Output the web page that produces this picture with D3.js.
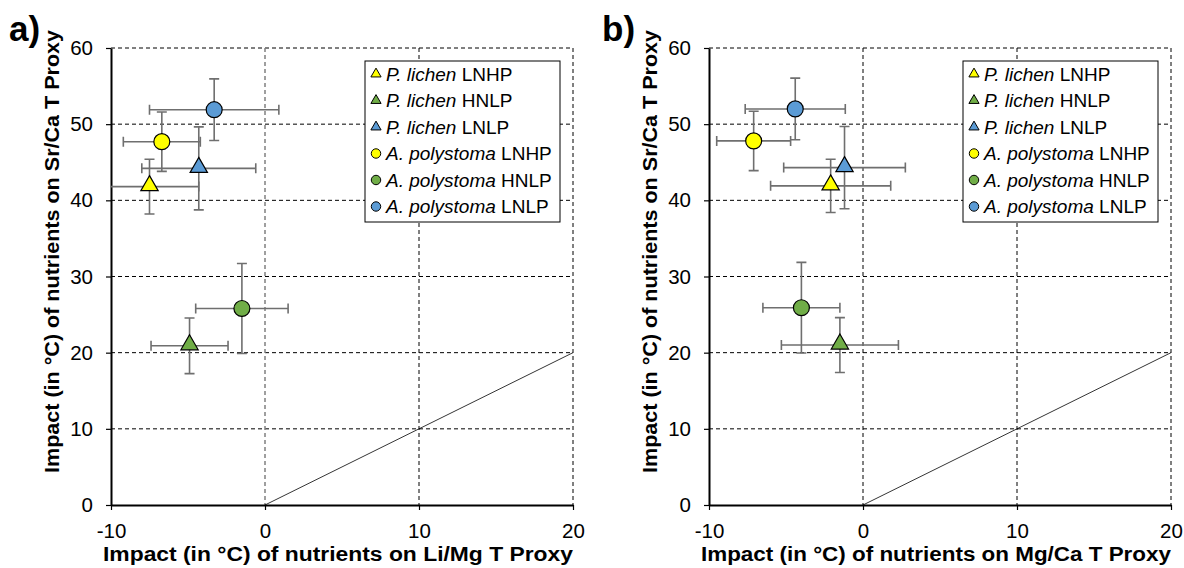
<!DOCTYPE html>
<html>
<head>
<meta charset="utf-8">
<script src="https://cdn.jsdelivr.net/npm/d3@7"></script>
<style>
  body { margin: 0; background: #fff; }
  text { font-family: Arial, "Liberation Sans", sans-serif; }
</style>
</head>
<body>
<div id="graphique"></div>
<script>
// --- DONNÉES ---
const especes     = ["P. lichen", "P. lichen", "P. lichen", "A. polystoma", "A. polystoma", "A. polystoma"];
const traitements = ["LNHP", "HNLP", "LNLP", "LNHP", "HNLP", "LNLP"];
const formes      = ["triangle", "triangle", "triangle", "cercle", "cercle", "cercle"];
const couleurs    = ["#FFFF00", "#70AD47", "#5B9BD5", "#FFFF00", "#70AD47", "#5B9BD5"];

// panneau a) : Li/Mg vs Sr/Ca
const xA    = [-7.5, -4.9, -4.3, -6.7, -1.5, -3.3];
const xErrA = [3.2, 2.5, 3.7, 2.5, 3.0, 4.2];
const yA    = [41.8, 20.9, 44.2, 47.7, 25.8, 51.9];
const yErrA = [3.6, 3.65, 5.45, 3.9, 5.9, 4.05];

// panneau b) : Mg/Ca vs Sr/Ca
const xB    = [-2.1, -1.5, -1.2, -7.1, -4.0, -4.4];
const xErrB = [3.9, 3.8, 3.95, 2.4, 2.5, 3.25];
const yB    = [41.9, 21.0, 44.3, 47.8, 25.9, 52.0];
const yErrB = [3.5, 3.6, 5.4, 3.9, 5.95, 4.05];

const ticksX = [-10, 0, 10, 20];
const ticksY = [0, 10, 20, 30, 40, 50, 60];

// --- CONFIGURATION ---
const largeur = 1184;
const hauteur = 568;

const svg = d3.select("#graphique")
    .append("svg")
    .attr("width", largeur)
    .attr("height", hauteur);

const panneaux = [
    { lettre: "a)", gauche: 111, xs: xA, xe: xErrA, ys: yA, ye: yErrA, titreX: "Impact (in °C) of nutrients on Li/Mg T Proxy", zeroGris: true, legendeX: 365, lettreX: 9 },
    { lettre: "b)", gauche: 709, xs: xB, xe: xErrB, ys: yB, ye: yErrB, titreX: "Impact (in °C) of nutrients on Mg/Ca T Proxy", zeroGris: false, legendeX: 963, lettreX: 602 }
];

const haut = 48, bas = 505, largeurPlot = 462;

panneaux.forEach((p, k) => {
    const x = d3.scaleLinear().domain([-10, 20]).range([p.gauche, p.gauche + largeurPlot]);
    const y = d3.scaleLinear().domain([0, 60]).range([bas, haut]);
    const g = svg.append("g");

    // clip pour les barres d'erreur qui sortent
    g.append("clipPath").attr("id", "clip" + k)
        .append("rect")
        .attr("x", p.gauche).attr("y", haut)
        .attr("width", largeurPlot).attr("height", bas - haut);

    // grille pointillée
    g.selectAll(".gy").data(ticksY.filter(v => v > 0)).join("line")
        .attr("x1", p.gauche).attr("x2", p.gauche + largeurPlot)
        .attr("y1", d => y(d)).attr("y2", d => y(d))
        .attr("stroke", "#000").attr("stroke-width", 1).attr("stroke-dasharray", "4,3");
    g.selectAll(".gx").data(ticksX.filter(v => v > -10)).join("line")
        .attr("x1", d => x(d)).attr("x2", d => x(d))
        .attr("y1", haut).attr("y2", bas)
        .attr("stroke", d => (d === 0 && p.zeroGris) ? "#808080" : "#000")
        .attr("stroke-width", d => (d === 0 && p.zeroGris) ? 1.5 : 1)
        .attr("stroke-dasharray", "4,3");

    // droite 1:1
    g.append("line")
        .attr("x1", x(0)).attr("y1", y(0)).attr("x2", x(20)).attr("y2", y(20))
        .attr("stroke", "#000").attr("stroke-width", 0.8);

    // axes (tirets simples pour les négatifs, comme l'original)
    const fmt = d => String(d);
    const axeY = g.append("g").attr("transform", `translate(${p.gauche},0)`)
        .call(d3.axisLeft(y).tickValues(ticksY).tickFormat(fmt).tickSize(5).tickPadding(13).tickSizeOuter(0));
    const axeX = g.append("g").attr("transform", `translate(0,${bas})`)
        .call(d3.axisBottom(x).tickValues(ticksX).tickFormat(fmt).tickSize(5).tickPadding(13).tickSizeOuter(0));
    [axeY, axeX].forEach(a => {
        a.select(".domain").attr("stroke", "#000").attr("stroke-width", 2);
        a.selectAll(".tick line").attr("stroke", "#000").attr("stroke-width", 1.2);
        a.selectAll("text").attr("font-size", 20.5).attr("fill", "#000")
            .attr("font-family", "Arial, 'Liberation Sans', sans-serif");
    });

    // titres
    g.append("text")
        .attr("transform", `translate(${p.gauche - 59},${251.5}) rotate(-90)`)
        .attr("text-anchor", "middle").attr("dy", "0.35em")
        .attr("font-size", 20).attr("font-weight", "bold")
        .attr("textLength", 443).attr("lengthAdjust", "spacingAndGlyphs")
        .text("Impact (in °C) of nutrients on Sr/Ca T Proxy");
    g.append("text")
        .attr("x", p.gauche + largeurPlot / 2 - 4).attr("y", 561)
        .attr("text-anchor", "middle")
        .attr("font-size", 20).attr("font-weight", "bold")
        .attr("textLength", 470).attr("lengthAdjust", "spacingAndGlyphs")
        .text(p.titreX);
    g.append("text")
        .attr("x", p.lettreX).attr("y", 41)
        .attr("font-size", 35).attr("font-weight", "bold")
        .text(p.lettre);

    // barres d'erreur
    const barres = g.append("g").attr("clip-path", `url(#clip${k})`)
        .attr("stroke", "#6f6f6f").attr("stroke-width", 1.6).attr("fill", "none");
    const chapeau = 5;
    d3.range(6).forEach(i => {
        const cx = x(p.xs[i]), cy = y(p.ys[i]);
        const x0 = x(p.xs[i] - p.xe[i]), x1 = x(p.xs[i] + p.xe[i]);
        const y0 = y(p.ys[i] - p.ye[i]), y1 = y(p.ys[i] + p.ye[i]);
        barres.append("path").attr("d",
            `M${x0},${cy}H${x1}M${x0},${cy - chapeau}V${cy + chapeau}M${x1},${cy - chapeau}V${cy + chapeau}` +
            `M${cx},${y0}V${y1}M${cx - chapeau},${y0}H${cx + chapeau}M${cx - chapeau},${y1}H${cx + chapeau}`);
    });

    // marqueurs
    const symTri = d3.symbol().type(d3.symbolTriangle).size(130);
    const symRond = d3.symbol().type(d3.symbolCircle).size(200);
    d3.range(6).forEach(i => {
        g.append("path")
            .attr("d", formes[i] === "triangle" ? symTri() : symRond())
            .attr("transform", `translate(${x(p.xs[i])},${y(p.ys[i]) + (formes[i] === "triangle" ? -1 : 0)})`)
            .attr("fill", couleurs[i]).attr("stroke", "#000").attr("stroke-width", 1.2);
    });

    // légende
    const leg = g.append("g").attr("transform", `translate(${p.legendeX},61)`);
    leg.append("rect").attr("width", 195).attr("height", 161)
        .attr("fill", "#fff").attr("stroke", "#000").attr("stroke-width", 1);
    const petitTri = d3.symbol().type(d3.symbolTriangle).size(45);
    const petitRond = d3.symbol().type(d3.symbolCircle).size(70);
    d3.range(6).forEach(i => {
        const ly = 13 + i * 26.5;
        leg.append("path")
            .attr("d", formes[i] === "triangle" ? petitTri() : petitRond())
            .attr("transform", `translate(11,${ly})`)
            .attr("fill", couleurs[i]).attr("stroke", "#000").attr("stroke-width", 1);
        const t = leg.append("text").attr("x", 21).attr("y", ly).attr("dy", "0.36em")
            .attr("font-size", 19);
        t.append("tspan").attr("font-style", "italic").text(especes[i]);
        t.append("tspan").text(" " + traitements[i]);
    });
});
</script>
</body>
</html>
